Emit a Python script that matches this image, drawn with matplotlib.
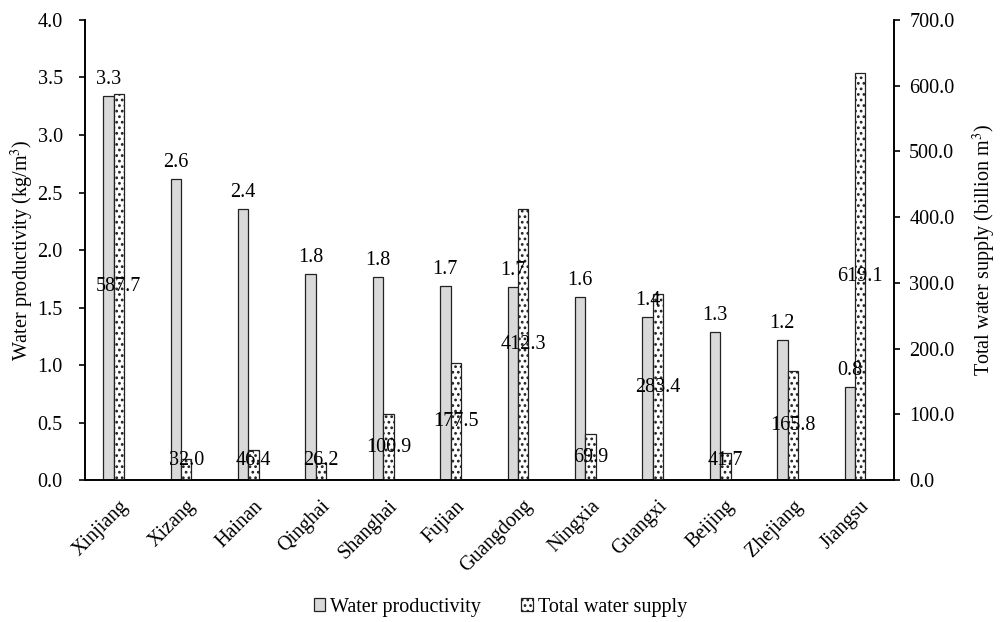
"""Water productivity vs total water supply by province (dual axis bars)."""

import matplotlib

matplotlib.use("Agg")
import matplotlib.pyplot as plt
import numpy as np
from matplotlib.patches import Patch
from matplotlib.ticker import FormatStrFormatter

provinces = ["Xinjiang", "Xizang", "Hainan", "Qinghai", "Shanghai", "Fujian",
             "Guangdong", "Ningxia", "Guangxi", "Beijing", "Zhejiang", "Jiangsu"]
productivity = [3.34, 2.62, 2.36, 1.79, 1.77, 1.69, 1.68, 1.59, 1.42, 1.29, 1.22, 0.81]
supply = [587.7, 32.0, 46.4, 26.2, 100.9, 177.5, 412.3, 69.9, 283.4, 41.7, 165.8, 619.1]

plt.rcParams["font.family"] = ["Liberation Serif", "DejaVu Serif"]
plt.rcParams["font.size"] = 14.5
plt.rcParams["hatch.linewidth"] = 1.2
plt.rcParams["mathtext.fontset"] = "stix"

fig = plt.figure(figsize=(10.01, 6.22), dpi=100)
ax = fig.add_axes([0.085, 0.228, 0.808, 0.740])
ax2 = ax.twinx()

x = np.arange(len(provinces))
w = 0.155
ax.bar(x - w, productivity, w, color="#d9d9d9", edgecolor="#222222", lw=0.9)
ax2.bar(x, supply, w, color="white", edgecolor="#222222", lw=0.9, hatch="...")

ax.set_xlim(-0.5, len(provinces) - 0.5)
ax.set_ylim(0, 4.0)
ax2.set_ylim(0, 700)
ax.set_yticks(np.arange(0, 4.01, 0.5))
ax2.set_yticks(np.arange(0, 701, 100))
ax.yaxis.set_major_formatter(FormatStrFormatter("%.1f"))
ax2.yaxis.set_major_formatter(FormatStrFormatter("%.1f"))

ax.set_xticks(x)
ax.set_xticklabels(provinces, rotation=45, ha="right", va="top", rotation_mode="anchor")
ax.tick_params(axis="x", length=0, pad=12)
ax.tick_params(axis="y", direction="out", length=4, width=1.2, pad=12)
ax2.tick_params(axis="y", direction="out", length=4, width=1.2, pad=7)

for a in (ax, ax2):
    a.spines["top"].set_visible(False)
    for s in ("left", "right", "bottom"):
        a.spines[s].set_linewidth(1.2)

ax.set_ylabel("Water productivity (kg/m$^3$)", labelpad=1)
ax2.set_ylabel("Total water supply (billion m$^3$)", labelpad=12)

# labels: productivity above the gray bars, supply near the middle of the dotted bars
for xi, v in zip(x, productivity):
    ax2.annotate(f"{v:.1f}", xy=(xi - w, v), xycoords=ax.transData,
                 xytext=(0, 5), textcoords="offset points", ha="center", va="bottom")
for xi, v in zip(x, supply):
    ax2.text(xi, max(v / 2, 30), f"{v:.1f}", ha="center", va="center")

handles = [
    Patch(facecolor="#d9d9d9", edgecolor="#222222", lw=0.9, label="Water productivity"),
    Patch(facecolor="white", edgecolor="#222222", lw=0.9, hatch="...", label="Total water supply"),
]
fig.legend(handles=handles, loc="center", bbox_to_anchor=(0.5, 0.024), ncol=2,
           frameon=False, handlelength=0.55, handleheight=0.55, handletextpad=0.25,
           columnspacing=2.0)

fig.savefig("out.png", dpi=100)
